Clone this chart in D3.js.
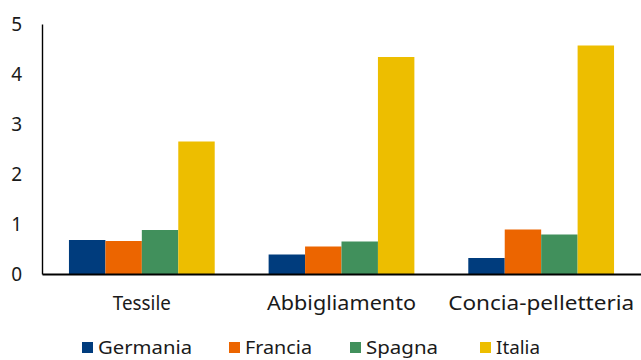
<!DOCTYPE html>
<html>
<head>
<meta charset="utf-8">
<script src="https://cdn.jsdelivr.net/npm/d3@7/dist/d3.min.js"></script>
<style>
  html, body { margin: 0; padding: 0; background: #fff; }
  svg { display: block; }
  text { font-family: "Noto Sans", "DejaVu Sans", sans-serif; fill: #1a1a1a; }
</style>
</head>
<body>
<svg id="chart" width="641" height="360"></svg>
<script>
// Sectors and countries
const categories = ["Tessile", "Abbigliamento", "Concia-pelletteria"];
const countries = ["Germania", "Francia", "Spagna", "Italia"];
const colors = ["#003C7D", "#EC6500", "#41905C", "#EDBE00"];
const yTicks = [0, 1, 2, 3, 4, 5];

// One value array per country, in the order of categories
const germania = [0.68, 0.39, 0.32];
const francia = [0.66, 0.55, 0.89];
const spagna = [0.88, 0.65, 0.79];
const italia = [2.65, 4.34, 4.57];
const seriesValues = [germania, francia, spagna, italia];

// Layout
const margin = { left: 42, right: 0, top: 24, bottom: 86 };
const width = 641, height = 360;
const plotBottom = 274;

const svg = d3.select("#chart");

const x0 = d3.scaleBand()
  .domain(categories)
  .range([margin.left, width - margin.right])
  .paddingInner(0.27)
  .paddingOuter(0.135);

const x1 = d3.scaleBand()
  .domain(countries)
  .range([0, x0.bandwidth()]);

const y = d3.scaleLinear()
  .domain([0, 5])
  .range([plotBottom, margin.top]);

// Bars
const groups = svg.append("g")
  .selectAll("g")
  .data(categories)
  .join("g")
  .attr("transform", d => `translate(${x0(d)},0)`);

groups.selectAll("rect")
  .data((c, i) => countries.map((k, j) => ({ country: k, value: seriesValues[j][i], color: colors[j] })))
  .join("rect")
  .attr("x", d => x1(d.country))
  .attr("width", x1.bandwidth())
  .attr("y", d => y(d.value))
  .attr("height", d => plotBottom - y(d.value))
  .attr("fill", d => d.color);

// Y axis
const yAxis = d3.axisLeft(y).tickValues(yTicks).tickSize(0).tickPadding(20).tickFormat(d3.format("d"));
const gy = svg.append("g").attr("transform", `translate(${margin.left},0)`).call(yAxis);
gy.select(".domain").attr("stroke", "#000").attr("stroke-width", 1.4);
gy.selectAll("text")
  .style("font-size", "19px")
  .attr("dy", "0.35em")
  .attr("fill", "#1a1a1a");

// X axis
const xAxis = d3.axisBottom(x0).tickSize(0).tickPadding(23);
const gx = svg.append("g").attr("transform", `translate(0,${plotBottom})`).call(xAxis);
gx.select(".domain").attr("stroke", "#000").attr("stroke-width", 2);
const labelWidths = { "Tessile": 58, "Abbigliamento": 149, "Concia-pelletteria": 186 };
gx.selectAll("text")
  .style("font-size", "19px")
  .attr("fill", "#1a1a1a")
  .attr("textLength", d => labelWidths[d])
  .attr("lengthAdjust", "spacingAndGlyphs");

// Legend
const legendX = [82, 229, 350, 480];
const legendTextWidths = [94, 67, 72, 44];
const legend = svg.append("g")
  .selectAll("g")
  .data(countries)
  .join("g")
  .attr("transform", (d, i) => `translate(${legendX[i]},342)`);

legend.append("rect")
  .attr("width", 11)
  .attr("height", 11)
  .attr("fill", (d, i) => colors[i]);

legend.append("text")
  .attr("x", 16)
  .attr("y", 12)
  .style("font-size", "18px")
  .attr("textLength", (d, i) => legendTextWidths[i])
  .attr("lengthAdjust", "spacingAndGlyphs")
  .text(d => d);
</script>
</body>
</html>
